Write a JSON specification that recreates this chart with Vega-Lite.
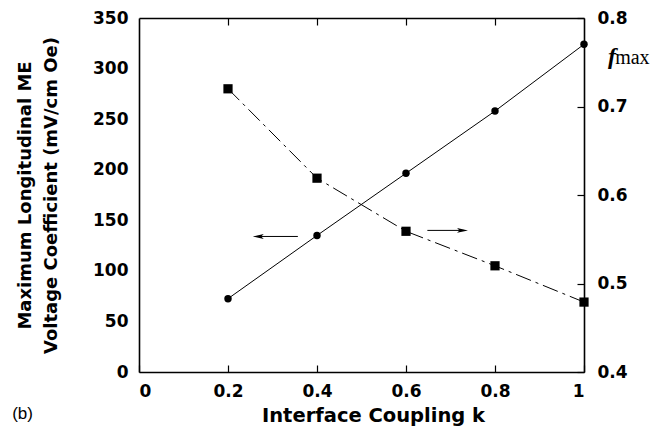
{
  "$schema": "https://vega.github.io/schema/vega-lite/v6.json",
  "autosize": {"type": "none"},
  "width": 445,
  "height": 354,
  "padding": {"left": 139, "top": 18, "right": 78, "bottom": 60},
  "background": "white",
  "config": {
    "view": {"stroke": null},
    "axis": {
      "labelFont": "DejaVu Sans", "labelFontWeight": "bold", "labelFontSize": 17, "labelColor": "black",
      "titleFont": "DejaVu Sans", "titleFontWeight": "bold", "titleFontSize": 18, "titleColor": "black",
      "domainColor": "black", "domainWidth": 1.6, "tickColor": "black", "tickWidth": 1.2, "grid": false
    }
  },
  "datasets": {
    "me": [
      {"k": 0.2, "v": 72.5}, {"k": 0.4, "v": 135}, {"k": 0.6, "v": 196.5}, {"k": 0.8, "v": 258}, {"k": 1.0, "v": 324}
    ],
    "fmax": [
      {"k": 0.2, "f": 0.72}, {"k": 0.4, "f": 0.619}, {"k": 0.6, "f": 0.559}, {"k": 0.8, "f": 0.52}, {"k": 1.0, "f": 0.479}
    ]
  },
  "encoding": {
    "x": {"field": "k", "type": "quantitative", "scale": {"domain": [0, 1], "nice": false, "zero": false}}
  },
  "layer": [
    {
      "layer": [
        {
          "data": {"name": "me"},
          "mark": {"type": "line", "color": "black", "strokeWidth": 1},
          "encoding": {
            "x": {"field": "k", "type": "quantitative",
              "axis": {"orient": "bottom", "values": [0, 0.2, 0.4, 0.6, 0.8, 1], "format": ".1~f", "tickSize": -7, "labelPadding": 18, "title": "Interface Coupling k", "titlePadding": 7, "titleFontSize": 19.5, "titleX": 234}},
            "y": {"field": "v", "type": "quantitative", "scale": {"domain": [0, 350], "nice": false},
              "axis": {"orient": "left", "values": [0, 50, 100, 150, 200, 250, 300, 350], "tickSize": 0, "labelPadding": 11,
                "title": ["Maximum Longitudinal ME", "Voltage Coefficient (mV/cm Oe)"], "titlePadding": 32, "titleLineHeight": 26}}
          }
        },
        {
          "data": {"name": "me"},
          "mark": {"type": "point", "shape": "circle", "filled": true, "color": "black", "size": 55, "opacity": 1},
          "encoding": {"y": {"field": "v", "type": "quantitative"}}
        },
        {
          "data": {"values": [{"k1": 0.357, "k2": 0.265, "v": 134}]},
          "mark": {"type": "rule", "color": "black", "strokeWidth": 1},
          "encoding": {"x": {"field": "k1", "type": "quantitative"}, "x2": {"field": "k2"}, "y": {"field": "v", "type": "quantitative"}}
        },
        {
          "data": {"values": [{"k": 0.268, "v": 134}]},
          "mark": {"type": "point", "shape": "M -1 0 L 1 -0.45 L 0.55 0 L 1 0.45 Z", "filled": true, "color": "black", "size": 120, "opacity": 1},
          "encoding": {"x": {"field": "k", "type": "quantitative"}, "y": {"field": "v", "type": "quantitative"}}
        },
        {
          "data": {"values": [{"k": 1.054, "v": 305, "t": "f"}]},
          "mark": {"type": "text", "font": "Liberation Serif", "fontStyle": "italic", "fontWeight": "bold", "fontSize": 24, "align": "left", "baseline": "alphabetic"},
          "encoding": {"x": {"field": "k", "type": "quantitative"}, "y": {"field": "v", "type": "quantitative"}, "text": {"field": "t"}}
        },
        {
          "data": {"values": [{"k": 1.07, "v": 305, "t": "max"}]},
          "mark": {"type": "text", "font": "Liberation Serif", "fontSize": 20, "align": "left", "baseline": "alphabetic"},
          "encoding": {"x": {"field": "k", "type": "quantitative"}, "y": {"field": "v", "type": "quantitative"}, "text": {"field": "t"}}
        },
        {
          "data": {"values": [{"k": -0.285, "v": -46, "t": "(b)"}]},
          "mark": {"type": "text", "font": "Liberation Sans", "fontSize": 17, "align": "left", "baseline": "alphabetic"},
          "encoding": {"x": {"field": "k", "type": "quantitative"}, "y": {"field": "v", "type": "quantitative"}, "text": {"field": "t"}}
        }
      ]
    },
    {
      "layer": [
        {
          "data": {"name": "fmax"},
          "mark": {"type": "line", "color": "black", "strokeWidth": 1, "strokeDash": [16, 5, 3, 5]},
          "encoding": {
            "x": {"field": "k", "type": "quantitative",
              "axis": {"orient": "top", "values": [0.2, 0.4, 0.6, 0.8], "labels": false, "tickSize": -7, "title": null}},
            "y": {"field": "f", "type": "quantitative", "scale": {"domain": [0.4, 0.8], "nice": false, "zero": false},
              "axis": {"orient": "right", "values": [0.4, 0.5, 0.6, 0.7, 0.8], "format": ".1f", "tickSize": -7, "labelPadding": 20, "title": null}}
          }
        },
        {
          "data": {"name": "fmax"},
          "mark": {"type": "point", "shape": "square", "filled": true, "color": "black", "size": 85, "opacity": 1},
          "encoding": {"y": {"field": "f", "type": "quantitative"}}
        },
        {
          "data": {"values": [{"k1": 0.648, "k2": 0.73, "f": 0.56}]},
          "mark": {"type": "rule", "color": "black", "strokeWidth": 1},
          "encoding": {"x": {"field": "k1", "type": "quantitative"}, "x2": {"field": "k2"}, "y": {"field": "f", "type": "quantitative"}}
        },
        {
          "data": {"values": [{"k": 0.727, "f": 0.56}]},
          "mark": {"type": "point", "shape": "M 1 0 L -1 -0.45 L -0.55 0 L -1 0.45 Z", "filled": true, "color": "black", "size": 120, "opacity": 1},
          "encoding": {"x": {"field": "k", "type": "quantitative"}, "y": {"field": "f", "type": "quantitative"}}
        }
      ]
    }
  ],
  "resolve": {"scale": {"y": "independent"}, "axis": {"x": "independent"}}
}
